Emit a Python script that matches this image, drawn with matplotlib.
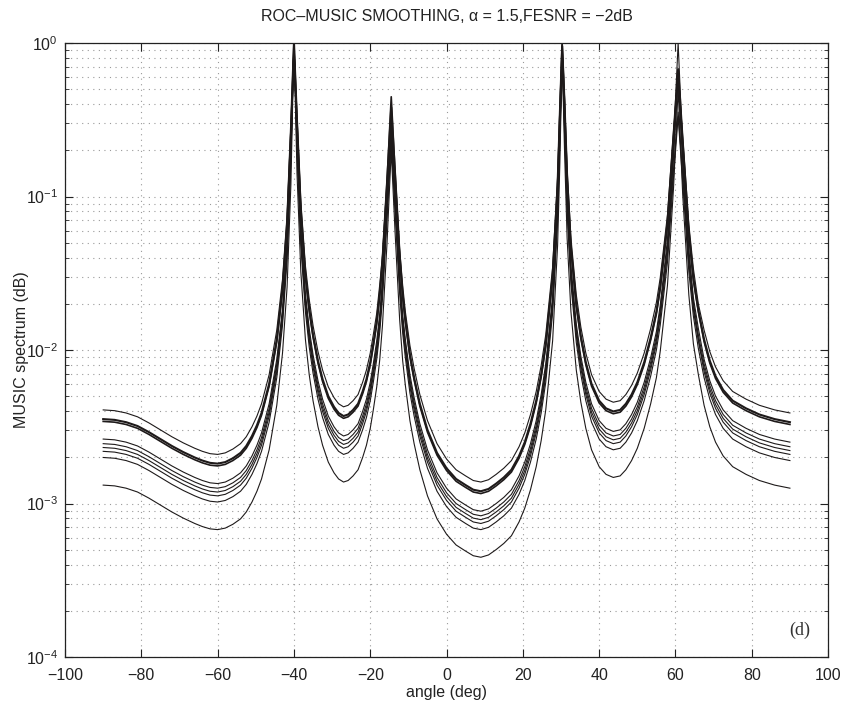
import matplotlib
matplotlib.use("Agg")
import matplotlib.pyplot as plt
from matplotlib.ticker import LogLocator, NullFormatter

plt.rcParams['font.family'] = ['Liberation Sans', 'DejaVu Sans']

# angle grid (deg)
angle = [-90, -87, -84, -81, -78, -75, -72, -69, -66, -64,
         -62, -60, -58, -56, -54, -52.5, -51, -49.7, -48.5, -46.5,
         -44.5, -43, -41.8, -40.8, -40, -39.2, -38.2, -37, -36, -35,
         -33.7, -32.5, -31, -29.5, -28.3, -27, -25.8, -24.5, -23.2, -22,
         -21, -20, -19.2, -18.3, -17.5, -16.8, -15.6, -14.5, -13.5, -12.3,
         -11.5, -10.8, -9.6, -8.5, -7, -5, -2.5, 0, 2.5, 5,
         7, 9, 11, 13, 15, 17, 19, 20.5, 22, 23.5,
         24.8, 26, 27.8, 29.1, 29.7, 30.3, 30.9, 31.6, 32.6, 34,
         35.2, 36.5, 38, 40, 41.8, 43.7, 45.5, 47, 48.5, 50,
         51.8, 53.5, 55, 56, 57.9, 59.5, 60.7, 61.9, 63.5, 64.7,
         66, 67.5, 69, 70.5, 72.5, 75, 78.5, 82, 86, 90]

# log10 of the MUSIC spectrum, one list per trial curve
c0 = [-2.39, -2.395, -2.41, -2.435, -2.475, -2.52, -2.565, -2.605, -2.64, -2.66,
      -2.675, -2.68, -2.67, -2.645, -2.61, -2.565, -2.50, -2.43, -2.35, -2.16,
      -1.87, -1.54, -1.12, -0.53, 0.00, -0.47, -1.03, -1.45, -1.67, -1.84,
      -2.01, -2.13, -2.24, -2.31, -2.35, -2.37, -2.36, -2.33, -2.29, -2.21,
      -2.13, -2.02, -1.90, -1.76, -1.57, -1.38, -0.90, -0.50, -0.85, -1.34,
      -1.58, -1.75, -1.97, -2.12, -2.29, -2.46, -2.61, -2.71, -2.78, -2.82,
      -2.85, -2.86, -2.845, -2.81, -2.77, -2.72, -2.63, -2.54, -2.42, -2.27,
      -2.10, -1.90, -1.46, -0.87, -0.41, 0.00, -0.34, -0.82, -1.27, -1.64,
      -1.85, -2.02, -2.16, -2.27, -2.32, -2.34, -2.33, -2.29, -2.23, -2.15,
      -2.02, -1.86, -1.69, -1.53, -1.12, -0.57, -0.19, -0.61, -1.18, -1.47,
      -1.70, -1.87, -2.01, -2.11, -2.20, -2.27, -2.32, -2.36, -2.39, -2.41]
c1 = [-2.45, -2.455, -2.47, -2.495, -2.535, -2.58, -2.625, -2.665, -2.70, -2.72,
      -2.735, -2.74, -2.73, -2.705, -2.67, -2.625, -2.56, -2.49, -2.41, -2.22,
      -1.93, -1.60, -1.18, -0.57, 0.00, -0.51, -1.09, -1.51, -1.73, -1.90,
      -2.07, -2.19, -2.30, -2.37, -2.41, -2.43, -2.42, -2.39, -2.35, -2.27,
      -2.19, -2.08, -1.96, -1.81, -1.63, -1.42, -0.91, -0.42, -0.85, -1.38,
      -1.64, -1.80, -2.03, -2.18, -2.35, -2.52, -2.67, -2.77, -2.84, -2.88,
      -2.91, -2.92, -2.905, -2.87, -2.83, -2.78, -2.69, -2.60, -2.48, -2.33,
      -2.16, -1.96, -1.52, -0.93, -0.46, -0.02, -0.38, -0.87, -1.33, -1.70,
      -1.91, -2.08, -2.22, -2.33, -2.38, -2.40, -2.39, -2.35, -2.29, -2.21,
      -2.08, -1.92, -1.75, -1.59, -1.17, -0.60, -0.17, -0.64, -1.23, -1.53,
      -1.74, -1.93, -2.07, -2.17, -2.26, -2.33, -2.38, -2.42, -2.45, -2.47]
c2 = [-2.465, -2.47, -2.485, -2.51, -2.55, -2.595, -2.64, -2.68, -2.715, -2.735,
      -2.75, -2.755, -2.745, -2.72, -2.685, -2.64, -2.575, -2.505, -2.425, -2.235,
      -1.945, -1.61, -1.19, -0.58, 0.00, -0.52, -1.10, -1.52, -1.745, -1.915,
      -2.085, -2.205, -2.315, -2.385, -2.425, -2.445, -2.435, -2.405, -2.365, -2.285,
      -2.205, -2.095, -1.975, -1.83, -1.645, -1.43, -0.90, -0.35, -0.84, -1.39,
      -1.655, -1.82, -2.045, -2.195, -2.365, -2.535, -2.685, -2.785, -2.855, -2.895,
      -2.925, -2.935, -2.92, -2.885, -2.845, -2.795, -2.705, -2.615, -2.495, -2.345,
      -2.175, -1.975, -1.53, -0.94, -0.46, 0.00, -0.38, -0.89, -1.34, -1.715,
      -1.925, -2.095, -2.235, -2.345, -2.395, -2.415, -2.405, -2.365, -2.305, -2.225,
      -2.095, -1.935, -1.765, -1.60, -1.19, -0.62, -0.20, -0.66, -1.25, -1.545,
      -1.75, -1.945, -2.085, -2.185, -2.275, -2.345, -2.395, -2.435, -2.465, -2.485]
c3 = [-2.58, -2.585, -2.60, -2.625, -2.665, -2.71, -2.755, -2.795, -2.83, -2.85,
      -2.865, -2.87, -2.86, -2.835, -2.80, -2.755, -2.69, -2.62, -2.54, -2.35,
      -2.06, -1.73, -1.30, -0.67, 0.00, -0.60, -1.21, -1.63, -1.86, -2.03,
      -2.20, -2.32, -2.43, -2.50, -2.54, -2.56, -2.55, -2.52, -2.48, -2.40,
      -2.32, -2.21, -2.09, -1.94, -1.76, -1.55, -1.04, -0.55, -0.98, -1.51,
      -1.77, -1.93, -2.16, -2.31, -2.48, -2.65, -2.80, -2.90, -2.97, -3.01,
      -3.04, -3.05, -3.035, -3.00, -2.96, -2.91, -2.82, -2.73, -2.61, -2.46,
      -2.29, -2.09, -1.65, -1.04, -0.55, -0.05, -0.47, -0.99, -1.45, -1.83,
      -2.04, -2.21, -2.35, -2.46, -2.51, -2.53, -2.52, -2.48, -2.42, -2.34,
      -2.21, -2.05, -1.88, -1.71, -1.28, -0.64, 0.00, -0.69, -1.34, -1.66,
      -1.86, -2.06, -2.20, -2.30, -2.39, -2.46, -2.51, -2.55, -2.58, -2.60]
c4 = [-2.61, -2.615, -2.63, -2.655, -2.695, -2.74, -2.785, -2.825, -2.86, -2.88,
      -2.895, -2.90, -2.89, -2.865, -2.83, -2.785, -2.72, -2.65, -2.57, -2.38,
      -2.09, -1.76, -1.33, -0.70, 0.00, -0.63, -1.23, -1.66, -1.89, -2.06,
      -2.23, -2.35, -2.46, -2.53, -2.57, -2.59, -2.58, -2.55, -2.51, -2.43,
      -2.35, -2.24, -2.12, -1.97, -1.79, -1.57, -1.04, -0.47, -0.98, -1.53,
      -1.80, -1.96, -2.19, -2.34, -2.51, -2.68, -2.83, -2.93, -3.00, -3.04,
      -3.07, -3.08, -3.065, -3.03, -2.99, -2.94, -2.85, -2.76, -2.64, -2.49,
      -2.32, -2.12, -1.68, -1.07, -0.57, -0.03, -0.48, -1.02, -1.48, -1.86,
      -2.07, -2.24, -2.38, -2.49, -2.54, -2.56, -2.55, -2.51, -2.45, -2.37,
      -2.24, -2.08, -1.91, -1.74, -1.32, -0.72, -0.22, -0.77, -1.38, -1.69,
      -1.90, -2.09, -2.23, -2.33, -2.42, -2.49, -2.54, -2.58, -2.61, -2.63]
c5 = [-2.635, -2.64, -2.655, -2.68, -2.72, -2.765, -2.81, -2.85, -2.885, -2.905,
      -2.92, -2.925, -2.915, -2.89, -2.855, -2.81, -2.745, -2.675, -2.595, -2.405,
      -2.115, -1.78, -1.35, -0.72, 0.00, -0.65, -1.26, -1.69, -1.915, -2.085,
      -2.255, -2.375, -2.485, -2.555, -2.595, -2.615, -2.605, -2.575, -2.535, -2.455,
      -2.375, -2.265, -2.145, -2.00, -1.815, -1.61, -1.09, -0.60, -1.04, -1.57,
      -1.825, -1.99, -2.215, -2.365, -2.535, -2.705, -2.855, -2.955, -3.025, -3.065,
      -3.095, -3.105, -3.09, -3.055, -3.015, -2.965, -2.875, -2.785, -2.665, -2.515,
      -2.345, -2.145, -1.70, -1.10, -0.60, -0.08, -0.52, -1.04, -1.51, -1.885,
      -2.095, -2.265, -2.405, -2.515, -2.565, -2.585, -2.575, -2.535, -2.475, -2.395,
      -2.265, -2.105, -1.935, -1.78, -1.37, -0.82, -0.45, -0.86, -1.43, -1.715,
      -1.93, -2.115, -2.255, -2.355, -2.445, -2.515, -2.565, -2.605, -2.635, -2.655]
c6 = [-2.66, -2.665, -2.68, -2.705, -2.745, -2.79, -2.835, -2.875, -2.91, -2.93,
      -2.945, -2.95, -2.94, -2.915, -2.88, -2.835, -2.77, -2.70, -2.62, -2.43,
      -2.14, -1.80, -1.37, -0.74, 0.00, -0.67, -1.28, -1.71, -1.94, -2.11,
      -2.28, -2.40, -2.51, -2.58, -2.62, -2.64, -2.63, -2.60, -2.56, -2.48,
      -2.40, -2.29, -2.17, -2.02, -1.84, -1.62, -1.09, -0.52, -1.03, -1.58,
      -1.85, -2.01, -2.24, -2.39, -2.56, -2.73, -2.88, -2.98, -3.05, -3.09,
      -3.12, -3.13, -3.115, -3.08, -3.04, -2.99, -2.90, -2.81, -2.69, -2.54,
      -2.37, -2.17, -1.72, -1.12, -0.60, -0.04, -0.52, -1.06, -1.53, -1.91,
      -2.12, -2.29, -2.43, -2.54, -2.59, -2.61, -2.60, -2.56, -2.50, -2.42,
      -2.29, -2.13, -1.96, -1.79, -1.37, -0.74, -0.18, -0.79, -1.43, -1.74,
      -1.94, -2.14, -2.28, -2.38, -2.47, -2.54, -2.59, -2.63, -2.66, -2.68]
c7 = [-2.70, -2.705, -2.72, -2.745, -2.785, -2.83, -2.875, -2.915, -2.95, -2.97,
      -2.985, -2.99, -2.98, -2.955, -2.92, -2.875, -2.81, -2.74, -2.66, -2.47,
      -2.18, -1.84, -1.41, -0.77, 0.00, -0.70, -1.32, -1.75, -1.98, -2.15,
      -2.32, -2.44, -2.55, -2.62, -2.66, -2.68, -2.67, -2.64, -2.60, -2.52,
      -2.44, -2.33, -2.21, -2.06, -1.88, -1.67, -1.15, -0.65, -1.10, -1.63,
      -1.89, -2.05, -2.28, -2.43, -2.60, -2.77, -2.92, -3.02, -3.09, -3.13,
      -3.16, -3.17, -3.155, -3.12, -3.08, -3.03, -2.94, -2.85, -2.73, -2.58,
      -2.41, -2.21, -1.76, -1.16, -0.65, -0.10, -0.57, -1.10, -1.57, -1.95,
      -2.16, -2.33, -2.47, -2.58, -2.63, -2.65, -2.64, -2.60, -2.54, -2.46,
      -2.33, -2.17, -2.00, -1.84, -1.43, -0.87, -0.48, -0.91, -1.49, -1.78,
      -1.99, -2.18, -2.32, -2.42, -2.51, -2.58, -2.63, -2.67, -2.70, -2.72]
c8 = [-2.88, -2.885, -2.90, -2.925, -2.965, -3.01, -3.055, -3.095, -3.13, -3.15,
      -3.165, -3.17, -3.16, -3.135, -3.10, -3.055, -2.99, -2.92, -2.84, -2.65,
      -2.36, -2.02, -1.59, -0.92, 0.00, -0.85, -1.49, -1.93, -2.16, -2.33,
      -2.50, -2.62, -2.73, -2.80, -2.84, -2.86, -2.85, -2.82, -2.78, -2.70,
      -2.62, -2.51, -2.39, -2.24, -2.06, -1.84, -1.30, -0.70, -1.23, -1.80,
      -2.07, -2.23, -2.46, -2.61, -2.78, -2.95, -3.10, -3.20, -3.27, -3.31,
      -3.34, -3.35, -3.335, -3.30, -3.26, -3.21, -3.12, -3.03, -2.91, -2.76,
      -2.59, -2.39, -1.94, -1.32, -0.78, -0.06, -0.68, -1.27, -1.75, -2.13,
      -2.34, -2.51, -2.65, -2.76, -2.81, -2.83, -2.82, -2.78, -2.72, -2.64,
      -2.51, -2.35, -2.18, -2.01, -1.58, -0.94, -0.30, -0.99, -1.64, -1.96,
      -2.16, -2.36, -2.50, -2.60, -2.69, -2.76, -2.81, -2.85, -2.88, -2.90]

curves = [c0, c1, c2, c3, c4, c5, c6, c7, c8]
widths = [0.8, 1.5, 1.2, 0.8, 0.8, 0.8, 0.8, 0.8, 0.8]

xticks = [-100, -80, -60, -40, -20, 0, 20, 40, 60, 80, 100]

fig = plt.figure(figsize=(8.48, 7.10), dpi=100)
ax = fig.add_axes([0.0767, 0.0746, 0.8998, 0.8648])

for c, w in zip(curves, widths):
    ax.plot(angle, [10.0 ** v for v in c], color='#1e1a1a', lw=w)

ax.set_yscale('log')
ax.set_xlim(-100, 100)
ax.set_ylim(1e-4, 1e0)
ax.set_xticks(xticks)
ax.set_xticklabels(['\u2212' + str(-t) if t < 0 else str(t) for t in xticks])
ax.yaxis.set_major_locator(LogLocator(base=10, numticks=10))
ax.yaxis.set_minor_locator(LogLocator(base=10, subs=range(2, 10), numticks=50))
ax.yaxis.set_minor_formatter(NullFormatter())

ax.grid(True, which='major', axis='both', color='#9a9a9a', linestyle=(0, (1, 4)), lw=0.8)
ax.grid(True, which='minor', axis='y', color='#9a9a9a', linestyle=(0, (1, 4)), lw=0.8)

ax.tick_params(which='both', direction='in', top=True, right=True, labelsize=11.5, colors='#222222')
ax.tick_params(which='major', length=6)
ax.tick_params(which='minor', length=3)
ax.tick_params(axis='x', which='major', pad=8)
ax.tick_params(axis='y', which='major', pad=5)
for s in ax.spines.values():
    s.set_color('#222222')
    s.set_linewidth(0.9)

ax.set_title('ROC\u2013MUSIC SMOOTHING, \u03b1 = 1.5,FESNR = \u22122dB', fontsize=11.5, color='#222222', pad=16)
ax.set_xlabel('angle (deg)', fontsize=11.5, color='#222222', labelpad=1)
ax.set_ylabel('MUSIC spectrum (dB)', fontsize=11.5, color='#222222', labelpad=-2)
ax.text(0.963, 0.03, '(d)', transform=ax.transAxes, ha='center', va='bottom',
        fontsize=13, family=['Liberation Serif', 'DejaVu Serif'], color='#333333')

fig.savefig('out.png', dpi=100)
